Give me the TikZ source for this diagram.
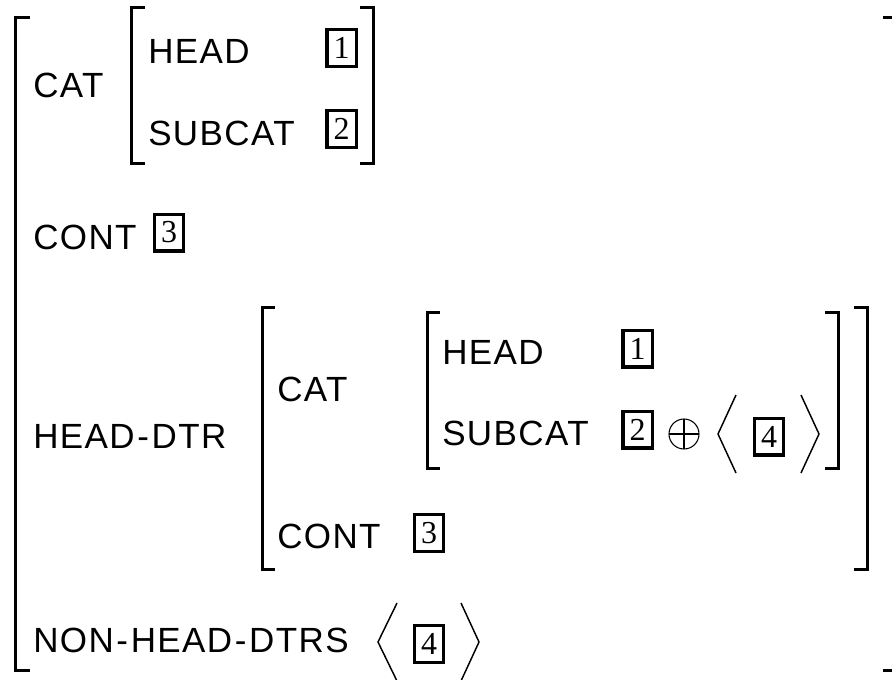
\documentclass[tikz,border=0pt]{standalone}
\usepackage{fontspec}
\setmainfont{Liberation Serif}
\newfontfamily\avmfont[LetterSpace=4]{Liberation Sans}
% hyphen with a little air on both sides
\newcommand\avmhy{\kern2pt-\kern2pt}
\begin{document}
\begin{tikzpicture}[x=0.75pt,y=-0.75pt,
  feat/.style={anchor=base west,inner sep=0pt,font=\avmfont\fontsize{26.25}{30}\selectfont},
  tag/.style={draw,line width=2.6pt,minimum width=22.1pt,minimum height=27.4pt,
    inner sep=0pt,font=\fontsize{24}{28}\selectfont},
  brack/.style={line width=2.25pt,line join=miter},
  angl/.style={line width=1.1pt,line join=miter},
  plus/.style={line width=0.8pt}]
\useasboundingbox (0,0) rectangle (892,679);
\clip (0,0) rectangle (892,679);

% outer matrix brackets
\draw[brack] (30,17) -- (15,17) -- (15,670) -- (30,670);
\draw[brack] (883,17) -- (897,17) -- (897,670) -- (883,670);

% CAT value
\draw[brack] (145,7) -- (131,7) -- (131,163) -- (145,163);
\draw[brack] (360,7) -- (373,7) -- (373,163) -- (360,163);
\node[feat] (cat) at (33,97) {CAT};
\node[feat] (head) at (148,63) {HEAD};
\node[feat] (subcat) at (148,145) {SUBCAT};
\node[tag] (t1) at (341.5,48) {1};
\node[tag] (t2) at (341.5,129) {2};

% CONT
\node[feat] (cont) at (33,249) {CONT};
\node[tag] (t3) at (169,232.5) {3};

% HEAD-DTR value
\node[feat] (hdtr) at (33,448) {HEAD\avmhy DTR};
\draw[brack] (275,307) -- (262,307) -- (262,569) -- (275,569);
\draw[brack] (854,307) -- (867,307) -- (867,569) -- (854,569);
\node[feat] (dcat) at (277,401) {CAT};
\draw[brack] (440,312) -- (427,312) -- (427,468) -- (440,468);
\draw[brack] (825,312) -- (838,312) -- (838,468) -- (825,468);
\node[feat] (dhead) at (442,364) {HEAD};
\node[feat] (dsubcat) at (442,445) {SUBCAT};
\node[tag] (d1) at (637.5,348.5) {1};
\node[tag] (d2) at (637.5,429.5) {2};
% list append
\draw[plus] (684,434) circle (15);
\draw[plus] (669,434) -- (699,434) (684,419) -- (684,449);
\draw[angl] (736,395) -- (718,434) -- (736,473);
\node[tag] (d4) at (769,436.5) {4};
\draw[angl] (801,395) -- (819,434) -- (801,473);
\node[feat] (dcont) at (277,548) {CONT};
\node[tag] (d3) at (429,533) {3};

% NON-HEAD-DTRS
\node[feat] (nhd) at (33,652) {NON\avmhy HEAD\avmhy DTRS};
\draw[angl] (397,603) -- (378,642) -- (397,681);
\node[tag] (n4) at (429,644) {4};
\draw[angl] (461,603) -- (479,642) -- (461,681);
\end{tikzpicture}
\end{document}
